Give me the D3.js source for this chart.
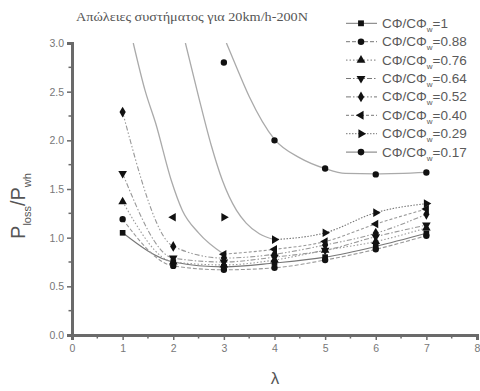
<!DOCTYPE html>
<html><head><meta charset="utf-8">
<script src="https://cdn.jsdelivr.net/npm/d3@7"></script>
<style>body{margin:0;background:#fff}svg{display:block}</style>
</head><body>
<svg id="c" width="480" height="391"></svg>
<script>
const lambdas = [1,2,3,4,5,6,7];
const seriesNames = ["1","0.88","0.76","0.64","0.52","0.40","0.29","0.17"];
const s100 = [1.05,0.75,0.70,0.74,0.80,0.91,1.045];
const s088 = [1.19,0.71,0.67,0.69,0.77,0.88,1.02];
const s076 = [1.37,0.75,0.72,0.77,0.87,0.96,1.10];
const s064 = [1.66,0.79,0.75,0.80,0.87,1.01,1.13];
const s052 = [2.29,0.91,0.79,0.83,0.925,1.045,1.24];
const s040 = [null,1.21,0.83,0.88,0.96,1.14,1.295];
const s029 = [null,null,1.21,0.98,1.05,1.257,1.35];
const s017 = [null,null,2.80,2.00,1.71,1.65,1.67];
// fitted curves: [lambda, value]
const fit040 = [[1.21,3.0],[1.45,2.5],[1.65,2.18],[1.96,1.59],[2.18,1.28],[2.5,1.05],[3,0.83]];
const fit029 = [[2.24,3.0],[2.5,2.45],[2.75,1.95],[2.97,1.59],[3.25,1.28],[3.44,1.15],[3.7,1.04],[4,0.98]];
const fit017 = [[3.05,3.0],[3.25,2.75],[3.5,2.45],[4,2.01],[4.5,1.82],[5,1.71],[5.4,1.66],[6,1.655],[7,1.67]];
const xTicks = [0,1,2,3,4,5,6,7,8];
const yTicks = [0.0,0.5,1.0,1.5,2.0,2.5,3.0];
const titleText = "Απώλειες συστήματος για 20km/h-200N";

const allSeries = [s100,s088,s076,s064,s052,s040,s029,s017];
const symbols = [d3.symbolSquare,d3.symbolCircle,d3.symbolTriangle,"down",d3.symbolDiamond,"left","right",d3.symbolCircle];
const dashes = [null,"4,2","1.5,2","5,2,1.5,2","5,2,1.5,2,1.5,2","3,2","1.5,1.5",null];

const svg = d3.select("#c");
const x = d3.scaleLinear().domain([0,8]).range([72,477]);
const y = d3.scaleLinear().domain([0,3]).range([335,43]);
const grey = "#6a6a6a";

svg.append("defs").append("clipPath").attr("id","pc").append("rect")
  .attr("x",72).attr("y",43).attr("width",420).attr("height",292);

// title
svg.append("text").attr("x",76).attr("y",21)
  .attr("font-family","Liberation Serif, serif").attr("font-size",12.5).attr("fill","#555")
  .attr("textLength",232).attr("lengthAdjust","spacingAndGlyphs").text(titleText);

// axes
const xAxis = d3.axisBottom(x).tickValues(xTicks).tickFormat(d3.format("d")).tickSize(5).tickPadding(5);
const gx = svg.append("g").attr("transform","translate(0,335)").call(xAxis);
const yAxis = d3.axisLeft(y).tickValues(yTicks).tickFormat(d3.format(".1f")).tickSize(5).tickPadding(3);
const gy = svg.append("g").attr("transform","translate(72,0)").call(yAxis);
[gx,gy].forEach(g=>{
  g.select(".domain").attr("stroke",grey).attr("stroke-width",3);
  g.selectAll(".tick line").attr("stroke",grey).attr("stroke-width",1.5);
  g.selectAll(".tick text").attr("fill","#777").attr("font-family","Liberation Sans, Arial, sans-serif").attr("font-size",10.5);
});
// minor ticks
const xm = d3.range(0.5,8,1);
svg.append("g").selectAll("line").data(xm).join("line")
  .attr("x1",d=>x(d)).attr("x2",d=>x(d)).attr("y1",335).attr("y2",338.5).attr("stroke",grey).attr("stroke-width",1.5);
const ym = [0.25,0.75,1.25,1.75,2.25,2.75];
svg.append("g").selectAll("line").data(ym).join("line")
  .attr("y1",d=>y(d)).attr("y2",d=>y(d)).attr("x1",72).attr("x2",68.5).attr("stroke",grey).attr("stroke-width",1.5);

// axis labels
svg.append("text").attr("x",275).attr("y",384).attr("text-anchor","middle")
  .attr("font-family","Liberation Sans, Arial, sans-serif").attr("font-size",17).attr("fill","#555").text("λ");
const yl = svg.append("text").attr("transform","translate(25,206) rotate(-90)").attr("text-anchor","middle")
  .attr("font-family","Liberation Sans, Arial, sans-serif").attr("font-size",20).attr("fill","#555");
yl.append("tspan").text("P");
yl.append("tspan").attr("font-size",11).attr("dy",6).text("loss");
yl.append("tspan").attr("dy",-6).text("/P");
yl.append("tspan").attr("font-size",11).attr("dy",6).text("wh");

function markerPath(sym, size){
  if(sym==="down"||sym==="left"||sym==="right") return d3.symbol(d3.symbolTriangle,size)();
  return d3.symbol(sym,size)();
}
function markerRot(sym){ return sym==="down"?180:sym==="left"?-90:sym==="right"?90:0; }

const plot = svg.append("g").attr("clip-path","url(#pc)");
const line = d3.line().defined(d=>d[1]!=null).x(d=>x(d[0])).y(d=>y(d[1])).curve(d3.curveMonotoneX);

// fitted curves
[[fit040,5],[fit029,6],[fit017,7]].forEach(([f,i])=>{
  plot.append("path").attr("d",line(f)).attr("fill","none").attr("stroke","#aaa").attr("stroke-width",1.3);
});
// data lines
allSeries.forEach((s,i)=>{
  let pts = lambdas.map((l,j)=>[l,s[j]]);
  if(i===5) pts = pts.filter(p=>p[0]>=3);
  if(i===6) pts = pts.filter(p=>p[0]>=4);
  if(i===7) return;
  plot.append("path").attr("d",line(pts)).attr("fill","none").attr("stroke",i===0||i===6?"#777":"#999")
    .attr("stroke-width",1.1).attr("stroke-dasharray",dashes[i]);
});
// markers
allSeries.forEach((s,i)=>{
  plot.append("g").selectAll("path").data(lambdas.map((l,j)=>[l,s[j]]).filter(d=>d[1]!=null)).join("path")
    .attr("d",markerPath(symbols[i],i===4?34:32))
    .attr("transform",d=>`translate(${x(d[0])},${y(d[1])}) rotate(${markerRot(symbols[i])})`)
    .attr("fill","#111");
});

// legend
const leg = svg.append("g");
seriesNames.forEach((n,i)=>{
  const yy = 23.3 + i*18.4;
  leg.append("line").attr("x1",346).attr("x2",377).attr("y1",yy).attr("y2",yy)
    .attr("stroke","#777").attr("stroke-width",1).attr("stroke-dasharray",dashes[i]);
  leg.append("path").attr("d",markerPath(symbols[i],34))
    .attr("transform",`translate(361,${yy}) rotate(${markerRot(symbols[i])})`).attr("fill","#111");
  const t = leg.append("text").attr("x",382).attr("y",yy+4.5)
    .attr("font-family","Liberation Sans, Arial, sans-serif").attr("font-size",13.5).attr("fill","#5a5a5a");
  t.append("tspan").text("CΦ/CΦ");
  t.append("tspan").attr("font-size",8).attr("dy",4).text("w");
  t.append("tspan").attr("dy",-4).text("="+n);
});
</script>
</body></html>
